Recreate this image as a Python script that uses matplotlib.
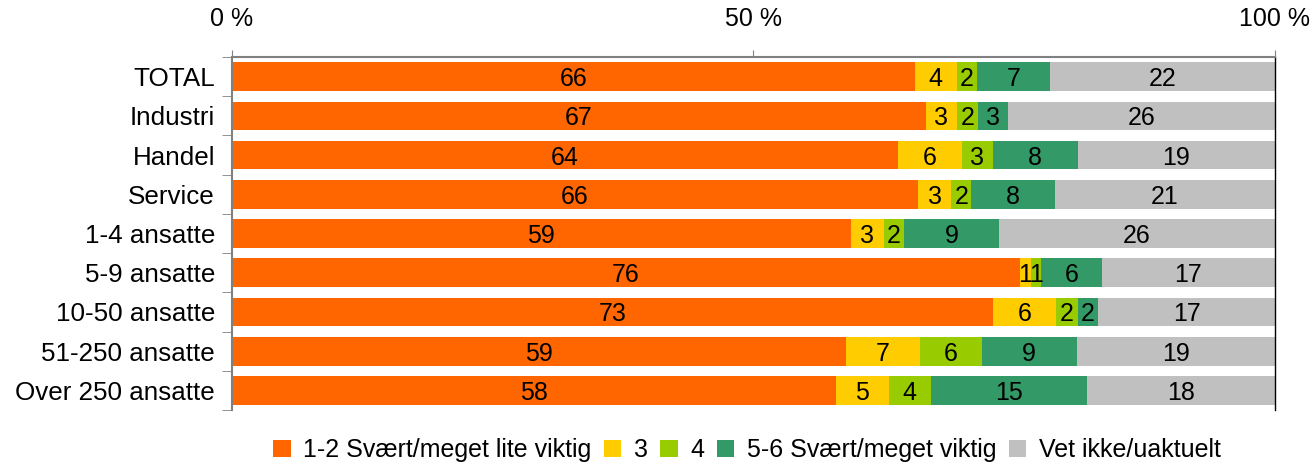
import numpy as np
import matplotlib.pyplot as plt
from matplotlib.patches import Patch

plt.rcParams['font.family'] = ['Liberation Sans', 'DejaVu Sans']

categories = ['TOTAL', 'Industri', 'Handel', 'Service', '1-4 ansatte',
              '5-9 ansatte', '10-50 ansatte', '51-250 ansatte', 'Over 250 ansatte']
series_names = ['1-2 Svært/meget lite viktig', '3', '4',
                '5-6 Svært/meget viktig', 'Vet ikke/uaktuelt']

lite_viktig = [65.5, 66.6, 63.9, 65.8, 59.4, 75.6, 73.0, 58.9, 57.9]
tre = [4.0, 2.9, 6.1, 3.2, 3.1, 1.0, 6.0, 7.1, 5.1]
fire = [2.0, 2.1, 3.0, 1.9, 2.0, 1.0, 2.1, 5.9, 4.0]
viktig = [7.0, 2.8, 8.1, 8.0, 9.1, 5.8, 2.0, 9.1, 15.0]
vet_ikke = [21.5, 25.6, 18.9, 21.1, 26.4, 16.6, 16.9, 19.0, 18.0]

colors = ['#FF6600', '#FFCC00', '#99CC00', '#339966', '#C0C0C0']
series = [lite_viktig, tre, fire, viktig, vet_ikke]

fig = plt.figure(figsize=(13.15, 4.66), dpi=100)
ax = fig.add_axes([0.1761, 0.120, 0.9694 - 0.1761, 0.8777 - 0.120])

y = np.arange(len(categories))
left = np.zeros(len(categories))
for vals, col in zip(series, colors):
    vals = np.array(vals)
    ax.barh(y, vals, left=left, height=0.73, color=col, edgecolor='none')
    for yi, l, v in zip(y, left, vals):
        ax.text(l + v / 2, yi, f'{v:.0f}', ha='center', va='center_baseline',
                fontsize=18, color='black')
    left += vals

ax.set_xlim(0, 100)
ax.set_ylim(len(categories) - 0.5, -0.5)

ax.xaxis.tick_top()
ax.set_xticks([0, 50, 100])
ax.set_xticklabels(['0 %', '50 %', '100 %'], fontsize=18)
ax.tick_params(axis='x', direction='out', length=5, color='#808080', pad=14)

ax.set_yticks(y)
ax.set_yticklabels(categories, fontsize=18.7)
ax.set_yticks(np.arange(-0.5, len(categories), 1), minor=True)
ax.tick_params(axis='y', which='major', length=0, pad=12)
ax.tick_params(axis='y', which='minor', direction='out', length=7, color='#808080')

for s in ['top', 'left']:
    ax.spines[s].set_color('#808080')
    ax.spines[s].set_linewidth(1.5)
ax.spines['bottom'].set_visible(False)
ax.spines['right'].set_color('black')
ax.spines['right'].set_linewidth(1)

handles = [Patch(facecolor=c, edgecolor='none') for c in colors]
fig.legend(handles, series_names, loc='center', bbox_to_anchor=(0.568, 0.034),
           ncol=5, frameon=False, fontsize=18, handlelength=0.7,
           handleheight=0.7, handletextpad=0.5, columnspacing=0.5)

fig.savefig('out.png', dpi=100)
